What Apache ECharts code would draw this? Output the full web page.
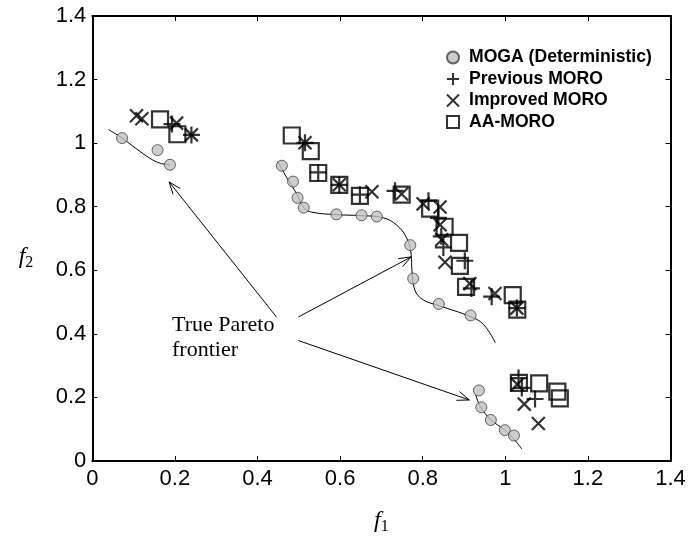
<!DOCTYPE html>
<html>
<head>
<meta charset="utf-8">
<script src="https://cdn.jsdelivr.net/npm/echarts@6/dist/echarts.min.js"></script>
<style>html,body{margin:0;padding:0;background:#fff}#c{width:689px;height:540px}</style>
</head>
<body>
<div id="c"></div>
<script>
// ---- data ----
const seriesNames = ['MOGA (Deterministic)', 'Previous MORO', 'Improved MORO', 'AA-MORO'];

const mogaPoints = [
  [0.072, 1.016], [0.158, 0.978], [0.188, 0.932],
  [0.459, 0.929], [0.486, 0.879], [0.497, 0.828], [0.512, 0.797], [0.591, 0.776],
  [0.652, 0.773], [0.689, 0.769], [0.770, 0.679], [0.777, 0.574], [0.839, 0.494], [0.916, 0.458],
  [0.936, 0.222], [0.942, 0.169], [0.965, 0.129], [0.999, 0.097], [1.021, 0.080]
];

const previousMoro = [
  [0.193, 1.060], [0.240, 1.026],
  [0.515, 1.001], [0.547, 0.908], [0.598, 0.869], [0.648, 0.838], [0.733, 0.850],
  [0.814, 0.819], [0.838, 0.765], [0.845, 0.707], [0.850, 0.672], [0.902, 0.630],
  [0.918, 0.543], [0.967, 0.517], [1.028, 0.481],
  [1.032, 0.261], [1.040, 0.230], [1.072, 0.195]
];

const improvedMoro = [
  [0.107, 1.086], [0.120, 1.077], [0.204, 1.063], [0.240, 1.026],
  [0.515, 1.001], [0.598, 0.869], [0.677, 0.847], [0.749, 0.840], [0.801, 0.809],
  [0.842, 0.799], [0.842, 0.743], [0.846, 0.696], [0.854, 0.625], [0.914, 0.558],
  [0.975, 0.527], [1.028, 0.481],
  [1.029, 0.241], [1.046, 0.179], [1.080, 0.118]
];

const aaMoro = [
  [0.164, 1.075], [0.206, 1.028],
  [0.483, 1.024], [0.529, 0.975], [0.547, 0.906], [0.598, 0.869], [0.648, 0.834],
  [0.749, 0.838], [0.818, 0.794], [0.853, 0.737], [0.888, 0.686], [0.890, 0.614],
  [0.905, 0.548], [1.018, 0.522], [1.029, 0.476],
  [1.033, 0.246], [1.082, 0.244], [1.126, 0.218], [1.132, 0.197]
];

const paretoLeft = [
  [0.039, 1.043], [0.072, 1.016], [0.106, 0.983], [0.140, 0.952], [0.164, 0.937], [0.188, 0.932]
];
const paretoMiddle = [
  [0.449, 0.942], [0.471, 0.891], [0.495, 0.840], [0.512, 0.797], [0.531, 0.783],
  [0.591, 0.775], [0.652, 0.772], [0.705, 0.765], [0.737, 0.742], [0.761, 0.702],
  [0.772, 0.650], [0.774, 0.599], [0.781, 0.538], [0.801, 0.507], [0.839, 0.489],
  [0.916, 0.454], [0.947, 0.430], [0.976, 0.372]
];
const paretoRight = [
  [0.928, 0.210], [0.940, 0.170], [0.965, 0.130], [0.999, 0.097], [1.020, 0.070], [1.040, 0.038]
];

// arrows: [fromX, fromY, toX, toY]
const arrows = [
  [0.446, 0.453, 0.186, 0.878],
  [0.499, 0.453, 0.772, 0.642],
  [0.499, 0.379, 0.913, 0.192]
];
// annotation lines: [x, y, text]
const annotation = [
  [0.193, 0.426, 'True Pareto'],
  [0.193, 0.349, 'frontier']
];

const axisMin = 0, axisMax = 1.4, axisStep = 0.2;

// ---- chart ----
const SANS = 'Liberation Sans, Arial, sans-serif';
const SERIF = 'Liberation Serif, Times New Roman, serif';
const plusPath = 'path://M0,6L12,6M6,0L6,12';
const crossPath = 'path://M0,0L12,12M12,0L0,12';

const chart = echarts.init(document.getElementById('c'), null, {renderer: 'canvas'});

function baseAxis(pos, show) {
  return {
    type: 'value', position: pos, min: axisMin, max: axisMax, interval: axisStep,
    axisLine: {show: true, onZero: false, lineStyle: {color: '#000', width: 2}},
    axisTick: {show: true, inside: true, length: 5, lineStyle: {color: '#000', width: 1}},
    axisLabel: {show: show, color: '#000', fontFamily: SANS, fontSize: 22},
    splitLine: {show: false}
  };
}

const xMain = baseAxis('bottom', true);
xMain.axisLabel.margin = 7;
xMain.name = '{f|f}{s|1}';
xMain.nameLocation = 'middle';
xMain.nameGap = 46;
xMain.nameTextStyle = {
  rich: {
    f: {fontFamily: SERIF, fontStyle: 'italic', fontSize: 24, color: '#000'},
    s: {fontFamily: SERIF, fontSize: 16, color: '#000', padding: [12, 0, 0, 0]}
  }
};
const xTop = baseAxis('top', false);

const yMain = baseAxis('left', true);
yMain.axisLabel.margin = 6;
yMain.name = '{f|f}{s|2}';
yMain.nameLocation = 'middle';
yMain.nameRotate = 0;
yMain.nameGap = 59;
yMain.nameTextStyle = {
  padding: [36, 0, 0, 0],
  rich: {
    f: {fontFamily: SERIF, fontStyle: 'italic', fontSize: 24, color: '#000'},
    s: {fontFamily: SERIF, fontSize: 16, color: '#000', padding: [12, 0, 0, 0]}
  }
};
const yRight = baseAxis('right', false);

function curve(data) {
  return {
    type: 'line', data: data, smooth: 0.4, symbol: 'none', silent: true,
    lineStyle: {color: '#000', width: 1}, z: 1, xAxisIndex: 0, yAxisIndex: 0
  };
}

chart.setOption({
  animation: false,
  backgroundColor: '#fff',
  grid: {left: 92.3, right: 18.5, top: 16, bottom: 68.3, containLabel: false},
  xAxis: [xMain, xTop],
  yAxis: [yMain, yRight],
  legend: {
    orient: 'vertical', left: 441, top: 43.5,
    itemWidth: 12, itemHeight: 12, itemGap: 3.5,
    data: seriesNames,
    textStyle: {fontFamily: SANS, fontWeight: 'bold', fontSize: 17.6, color: '#000',
                lineHeight: 18, padding: [0, 0, 0, 5]}
  },
  series: [
    curve(paretoLeft), curve(paretoMiddle), curve(paretoRight),
    {
      name: seriesNames[0], type: 'scatter', data: mogaPoints, symbol: 'circle', symbolSize: 11, z: 3,
      itemStyle: {color: '#c0c0c0', borderColor: '#404040', borderWidth: 1}
    },
    {
      name: seriesNames[1], type: 'scatter', data: previousMoro, symbol: plusPath, symbolSize: 17, z: 4,
      itemStyle: {color: 'transparent', borderColor: '#000', borderWidth: 2.2}
    },
    {
      name: seriesNames[2], type: 'scatter', data: improvedMoro, symbol: crossPath, symbolSize: 13, z: 4,
      itemStyle: {color: 'transparent', borderColor: '#000', borderWidth: 2.2}
    },
    {
      name: seriesNames[3], type: 'scatter', data: aaMoro, symbol: 'rect', symbolSize: 16, z: 4,
      itemStyle: {color: 'transparent', borderColor: '#000', borderWidth: 2.2}
    },
    {
      type: 'custom', data: arrows, silent: true, z: 2,
      encode: {x: [0, 2], y: [1, 3]},
      renderItem: function (params, api) {
        const p1 = api.coord([api.value(0), api.value(1)]);
        const p2 = api.coord([api.value(2), api.value(3)]);
        const ang = Math.atan2(p2[1] - p1[1], p2[0] - p1[0]);
        const L = 13, a = 0.36;
        const h1 = [p2[0] - L * Math.cos(ang - a), p2[1] - L * Math.sin(ang - a)];
        const h2 = [p2[0] - L * Math.cos(ang + a), p2[1] - L * Math.sin(ang + a)];
        const st = {stroke: '#000', lineWidth: 1, fill: null};
        return {
          type: 'group',
          children: [
            {type: 'line', shape: {x1: p1[0], y1: p1[1], x2: p2[0], y2: p2[1]}, style: st},
            {type: 'polyline', shape: {points: [h1, p2, h2]}, style: st}
          ]
        };
      }
    },
    {
      type: 'custom', data: annotation, silent: true, z: 5,
      encode: {x: 0, y: 1},
      renderItem: function (params, api) {
        const p = api.coord([api.value(0), api.value(1)]);
        return {
          type: 'text', x: p[0], y: p[1],
          style: {text: annotation[params.dataIndex][2], fontFamily: SERIF, fontSize: 22,
                  fill: '#000', textAlign: 'left', textVerticalAlign: 'middle', verticalAlign: 'middle'}
        };
      }
    }
  ]
});
</script>
</body>
</html>
